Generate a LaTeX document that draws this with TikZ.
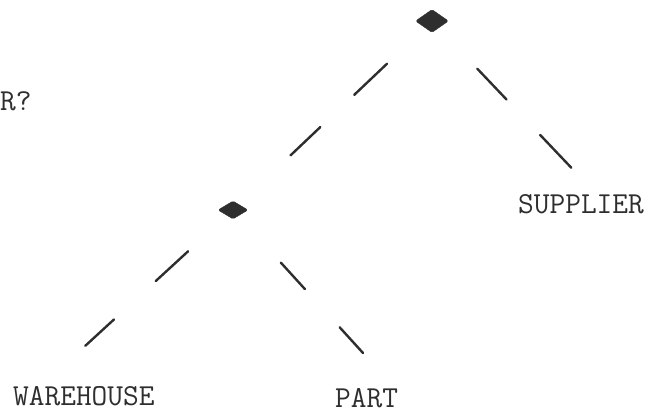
\documentclass[tikz,border=0pt]{standalone}
\usepackage{fontspec}
\usetikzlibrary{shapes.geometric,calc}
\definecolor{ink}{HTML}{2E2E2E}
\tikzset{
  joinnode/.style={diamond, fill=ink, draw=ink, inner sep=0pt, rounded corners=1.5pt},
  label text/.style={inner sep=0pt, anchor=base west, text=ink,
    font=\ttfamily\fontsize{30.5}{32}\selectfont},
  edge dash/.style={draw=ink, line width=2.4pt, line cap=round}
}
\begin{document}
\begin{tikzpicture}[x=1pt,y=-1pt]
\useasboundingbox (0,0) rectangle (664,416);
% join nodes
\node[joinnode, minimum width=33pt, minimum height=23pt] (top) at (432,21) {};
\node[joinnode, minimum width=30pt, minimum height=18pt] (low) at (233,210) {};
% labels
\node[label text] (q) at (0,110) {R?};
\node[label text] (sup) at (518,213) {SUPPLIER};
\node[label text] (wh) at (13,405) {WAREHOUSE};
\node[label text] (part) at (335,407) {PART};
% edge end points at the labels
\coordinate (eSup) at ([xshift=15pt]sup.north);
\coordinate (eWh) at ([xshift=-42pt]wh.north);
\coordinate (ePart) at ([xshift=28pt]part.north);
% top -> low
\draw[edge dash] ($(top)!0.226!(low)$) -- ($(top)!0.391!(low)$);
\draw[edge dash] ($(top)!0.561!(low)$) -- ($(top)!0.711!(low)$);
% top -> SUPPLIER
\draw[edge dash] ($(top)!0.276!(eSup)$) -- ($(top)!0.454!(eSup)$);
\draw[edge dash] ($(top)!0.659!(eSup)$) -- ($(top)!0.849!(eSup)$);
% low -> WAREHOUSE
\draw[edge dash] ($(low)!0.235!(eWh)$) -- ($(low)!0.404!(eWh)$);
\draw[edge dash] ($(low)!0.623!(eWh)$) -- ($(low)!0.773!(eWh)$);
% low -> PART
\draw[edge dash] ($(low)!0.296!(ePart)$) -- ($(low)!0.445!(ePart)$);
\draw[edge dash] ($(low)!0.660!(ePart)$) -- ($(low)!0.805!(ePart)$);
\end{tikzpicture}
\end{document}
